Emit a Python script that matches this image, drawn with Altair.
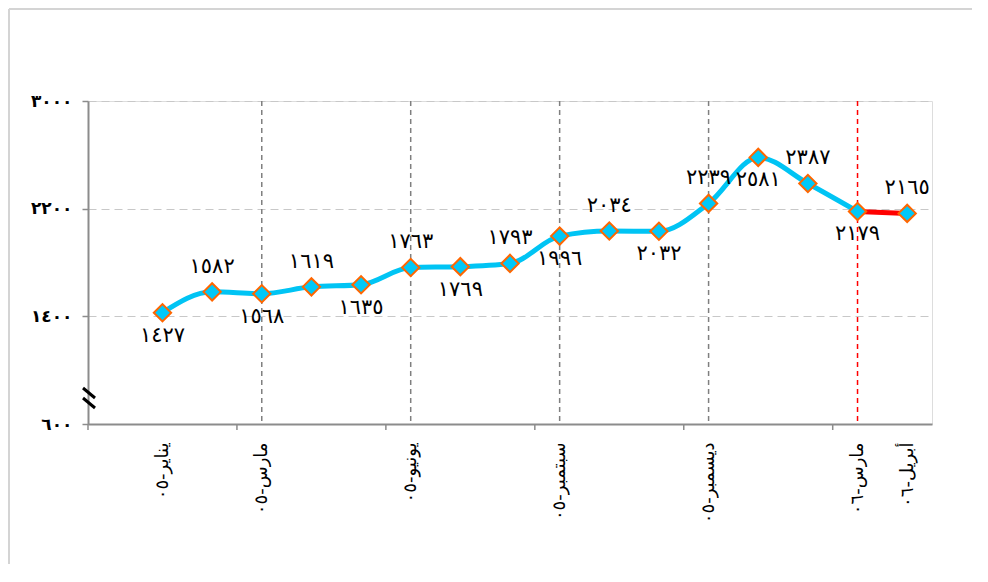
import altair as alt
import pandas as pd

# ---- data ----
month_index = list(range(16))
values = [1427, 1582, 1568, 1619, 1635, 1763, 1769, 1793, 1996, 2034, 2032, 2239, 2581, 2387, 2179, 2165]
x_label_index = [0, 2, 5, 8, 11, 14, 15]
x_labels = ["يناير-٠٥", "مارس-٠٥", "يونيو-٠٥", "سبتمبر-٠٥", "ديسمبر-٠٥", "مارس-٠٦", "أبريل-٠٦"]
y_ticks = [600, 1400, 2200, 3000]
gray_vlines = [2, 5, 8, 11]
red_vline = [14]
tick_bounds = [-1.5, 1.5, 4.5, 7.5, 10.5, 13.5]

AR = str.maketrans("0123456789", "٠١٢٣٤٥٦٧٨٩")

def ar(v):
    return str(v).translate(AR)

df = pd.DataFrame({"i": month_index, "v": values})
df["lab"] = df["v"].map(ar)
df["odd"] = df["i"] % 2

W, H = 844, 323
FONT = "DejaVu Sans"

xscale = alt.Scale(domain=[-1.5, 15.5], nice=False, zero=False)
yscale = alt.Scale(domain=[600, 3000], nice=False, zero=False)

x_expr = " : ".join(f"datum.value == {i} ? '{t}'" for i, t in zip(x_label_index, x_labels)) + " : ''"
y_expr = " : ".join(f"datum.value == {v} ? '{ar(v)}'" for v in y_ticks) + " : ''"

x_enc = alt.X("i:Q", scale=xscale, axis=alt.Axis(
    values=x_label_index, labelExpr=x_expr, ticks=False, grid=False, labelAngle=270,
    labelPadding=18, labelFontSize=18, labelFont=FONT, labelColor="black",
    domainColor="#8c8c8c", domainWidth=2, title="", labelOverlap=False))
y_enc = alt.Y("v:Q", scale=yscale, axis=alt.Axis(
    values=y_ticks, labelExpr=y_expr, grid=True, gridDash=[8, 5], gridColor="#c8c8c8",
    gridWidth=1, tickColor="#8c8c8c", tickSize=6, tickWidth=1.5, labelPadding=10,
    labelFontSize=17, labelFontWeight="bold", labelFont=FONT, labelColor="black",
    domainColor="#8c8c8c", domainWidth=2, title=""))

base = alt.Chart(df)

gray_rules = alt.Chart(pd.DataFrame({"i": gray_vlines})).mark_rule(
    color="#7f7f7f", strokeDash=[5, 4], strokeWidth=1.5).encode(
    x=alt.X("i:Q", scale=xscale))
red_rules = alt.Chart(pd.DataFrame({"i": red_vline})).mark_rule(
    color="#ff0000", strokeDash=[5, 4], strokeWidth=1.5).encode(
    x=alt.X("i:Q", scale=xscale))

line_main = base.transform_filter("datum.i <= 14").mark_line(
    color="#00c4f4", strokeWidth=5, interpolate="monotone").encode(x=x_enc, y=y_enc)
line_red = base.transform_filter("datum.i >= 14").mark_line(
    color="#ff0000", strokeWidth=5).encode(x="i:Q", y="v:Q")

points = base.mark_point(shape="diamond", size=300, filled=True, fill="#00c8f8",
                         stroke="#ff6600", strokeWidth=2, opacity=1).encode(x="i:Q", y="v:Q")

lab_above = base.transform_filter("datum.odd == 1").mark_text(
    dy=-25, fontSize=21, font=FONT, color="black").encode(x="i:Q", y="v:Q", text="lab:N")
lab_below = base.transform_filter("datum.odd == 0").mark_text(
    dy=23, fontSize=21, font=FONT, color="black").encode(x="i:Q", y="v:Q", text="lab:N")

ticks = alt.Chart(pd.DataFrame({"i": tick_bounds})).mark_rule(
    color="#8c8c8c", strokeWidth=1.5).encode(
    x=alt.X("i:Q", scale=xscale), y=alt.value(H), y2=alt.value(H + 6))

brk1 = alt.Chart(pd.DataFrame({"a": [0]})).mark_rule(color="black", strokeWidth=3).encode(
    x=alt.value(-5), x2=alt.value(7), y=alt.value(H - 36), y2=alt.value(H - 26))
brk2 = alt.Chart(pd.DataFrame({"a": [0]})).mark_rule(color="black", strokeWidth=3).encode(
    x=alt.value(-5), x2=alt.value(7), y=alt.value(H - 26), y2=alt.value(H - 16))

frame_top = alt.Chart(pd.DataFrame({"a": [0]})).mark_rule(color="#d4d4d4", strokeWidth=2).encode(
    x=alt.value(-79), x2=alt.value(W + 40), y=alt.value(-92))
frame_left = alt.Chart(pd.DataFrame({"a": [0]})).mark_rule(color="#d4d4d4", strokeWidth=2).encode(
    x=alt.value(-79), y=alt.value(-92), y2=alt.value(H + 140))

chart = alt.layer(
    frame_top, frame_left, gray_rules, red_rules, line_main, line_red, points,
    lab_above, lab_below, ticks, brk1, brk2
).properties(
    width=W, height=H,
    autosize=alt.AutoSizeParams(type="none"),
    padding={"left": 80, "top": 93, "right": 40, "bottom": 140},
).configure_view(stroke="#8c8c8c", strokeWidth=2).configure(background="white")

chart.save("out.html", embed_options={"renderer": "svg", "actions": False})
